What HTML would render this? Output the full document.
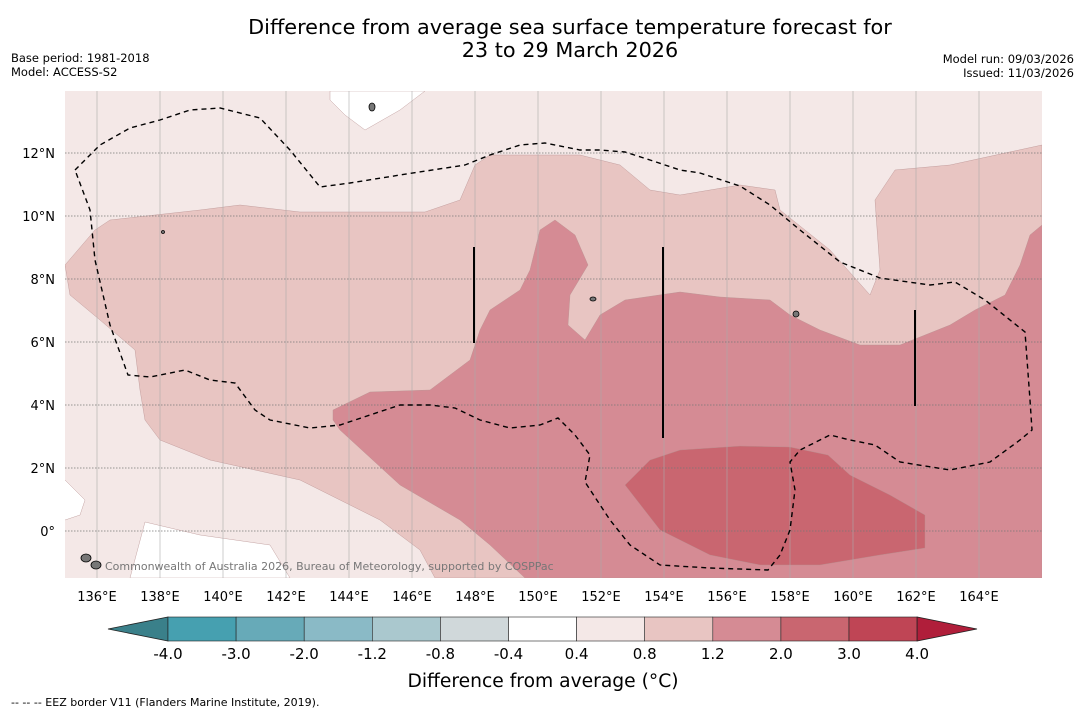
<!DOCTYPE html>
<html><head><meta charset="utf-8"><style>
body{margin:0;background:#fff;font-family:"Liberation Sans",sans-serif;}
svg text{font-family:"DejaVu Sans","Liberation Sans",sans-serif;}
</style></head><body>
<svg id="c" width="1085" height="713" xmlns="http://www.w3.org/2000/svg">
<text x="570" y="34" font-size="20.8" text-anchor="middle">Difference from average sea surface temperature forecast for</text>
<text x="570" y="57" font-size="20.8" text-anchor="middle">23 to 29 March 2026</text>
<text x="11" y="62" font-size="11.5">Base period: 1981-2018</text>
<text x="11" y="76" font-size="11.5">Model: ACCESS-S2</text>
<text x="1074" y="63" font-size="11.5" text-anchor="end">Model run: 09/03/2026</text>
<text x="1074" y="77" font-size="11.5" text-anchor="end">Issued: 11/03/2026</text>
<defs><clipPath id="mc"><rect x="65" y="91" width="977" height="487"/></clipPath></defs>
<g id="map" clip-path="url(#mc)"></g>
<g id="cb"></g>
<text x="543" y="687" font-size="18.7" text-anchor="middle">Difference from average (°C)</text>
<text x="11" y="706" font-size="11">-- -- -- EEZ border V11 (Flanders Marine Institute, 2019).</text>
</svg>
<script>
const lonTicks=[136,138,140,142,144,146,148,150,152,154,156,158,160,162,164];
const latTicks=[0,2,4,6,8,10,12];
const levels=["-4.0","-3.0","-2.0","-1.2","-0.8","-0.4","0.4","0.8","1.2","2.0","3.0","4.0"];
const levelColors=["#46a0b0","#67aab8","#8abac6","#aac8ce","#d0d8da","#ffffff","#f4e8e7","#e8c5c2","#d58b94","#c96670","#bf4555"];
const px=lon=>65.5+(lon-135)*31.5;
const py=lat=>531-lat*31.5;
const NS="http://www.w3.org/2000/svg";
function mk(t,a,p){const e=document.createElementNS(NS,t);for(const k in a)e.setAttribute(k,a[k]);p.appendChild(e);return e;}
const map=document.getElementById('map');
const white1=[[330,91],[425,91],[400,110],[365,130],[345,115],[330,100]];
const white2=[[130,578],[145,522],[200,535],[270,545],[290,578]];
const white3=[[0,480],[65,480],[85,500],[80,515],[65,520],[0,520]];
const lvl08=[[65,265],[95,230],[110,220],[200,210],[240,205],[300,212],[425,212],[460,200],[475,165],[490,155],[580,155],[620,165],[650,190],[680,195],[740,185],[775,190],[780,210],[830,250],[870,295],[880,270],[875,200],[895,170],[950,165],[1042,145],[1042,578],[435,578],[420,550],[380,520],[300,480],[210,460],[160,440],[145,420],[140,390],[135,350],[100,320],[70,295]];
const lvl12=[[333,410],[370,392],[430,390],[470,360],[480,330],[490,310],[520,290],[530,270],[540,230],[555,220],[575,235],[588,265],[570,295],[568,325],[585,340],[600,315],[625,300],[680,292],[720,297],[770,300],[790,315],[820,330],[860,345],[900,345],[950,325],[975,310],[1005,295],[1020,265],[1030,235],[1042,225],[1042,578],[525,578],[490,545],[460,520],[400,485],[340,430],[333,420]];
const lvl20=[[625,485],[650,460],[680,450],[740,446],[790,447],[828,455],[850,475],[890,495],[925,515],[925,548],[880,555],[820,565],[760,565],[710,555],[660,530]];
const eez=[[75,170],[100,145],[130,128],[160,120],[190,110],[220,108],[260,118],[290,150],[320,187],[350,183],[400,175],[465,165],[490,155],[520,145],[545,143],[580,150],[600,150],[625,152],[650,160],[680,170],[700,173],[740,186],[770,205],[800,230],[840,262],[880,278],[930,285],[955,282],[985,300],[1025,332],[1030,400],[1032,430],[1020,440],[990,462],[950,470],[900,462],[875,445],[850,440],[830,435],[800,450],[790,462],[795,490],[790,530],[780,555],[768,570],[710,568],[660,565],[630,545],[610,520],[585,482],[590,455],[575,435],[558,418],[540,425],[510,428],[480,420],[455,408],[430,405],[400,405],[370,415],[340,425],[310,428],[270,420],[255,410],[235,383],[210,380],[185,370],[150,377],[128,375],[110,325],[95,260],[90,210],[75,170]];
const bg=mk('rect',{x:65,y:91,width:977,height:487,fill:"#f4e8e7"},map);

[[white1,"#ffffff","white-region-top"],[white2,"#ffffff","white-region-bottom"],[white3,"#ffffff","white-region-left"],[lvl08,"#e8c5c2","level-0.8-1.2"],[lvl12,"#d58b94","level-1.2-2.0"],[lvl20,"#c96670","level-2.0-3.0"]].forEach(([pts,f,n])=>{
 const p=mk('polygon',{points:pts.map(q=>q.join(',')).join(' '),fill:f,stroke:"#b89090","stroke-width":0.4},map);
 
 
});
lonTicks.forEach(l=>{const g=mk('line',{x1:px(l),x2:px(l),y1:91,y2:578,stroke:"#aaa","stroke-width":0.6},map);
 });
latTicks.forEach(l=>{const g=mk('line',{x1:65,x2:1042,y1:py(l),y2:py(l),stroke:"#777","stroke-width":0.7,"stroke-dasharray":"1.5,1.5"},map);
 });
const e=mk('polyline',{points:eez.map(q=>q.join(',')).join(' '),fill:"none",stroke:"#000","stroke-width":1.4,"stroke-dasharray":"5,4"},map);

[[474,247,343],[663,247,438],[915,310,406]].forEach(([x,a,b])=>{const l=mk('line',{x1:x,x2:x,y1:a,y2:b,stroke:"#000","stroke-width":2},map);
 });
[[86,558,5,4],[96,565,5,4],[372,107,3,4],[796,314,3,3],[593,299,3,2],[163,232,1.5,1.5]].forEach(([x,y,rx,ry])=>{const i=mk('ellipse',{cx:x,cy:y,rx,ry,fill:"#777",stroke:"#000","stroke-width":0.8},map);
 });
const cr=mk('text',{x:105,y:570,"font-size":11,fill:"#777"},map);cr.textContent="Commonwealth of Australia 2026, Bureau of Meteorology, supported by COSPPac";

const svg=document.getElementById('c');
lonTicks.forEach(l=>{const t=mk('text',{x:px(l),y:601,"font-size":13,"text-anchor":"middle"},svg);t.textContent=l+"°E";
 });
latTicks.forEach(l=>{const t=mk('text',{x:55,y:py(l)+5,"font-size":13,"text-anchor":"end"},svg);t.textContent=l===0?"0°":l+"°N";
 });
const cb=document.getElementById('cb');
const x0=168,w=68.1,y0=617,h=24;
const tl=mk('polygon',{points:`${x0},${y0} ${x0},${y0+h} 108,${y0+h/2}`,fill:"#3a808a",stroke:"#222","stroke-width":0.8},cb);

levelColors.forEach((c,i)=>{const r=mk('rect',{x:x0+i*w,y:y0,width:w,height:h,fill:c,stroke:"#222","stroke-width":0.6},cb);
 });
const xe=x0+levelColors.length*w;
const tr=mk('polygon',{points:`${xe},${y0} ${xe},${y0+h} 977,${y0+h/2}`,fill:"#b01e3a",stroke:"#222","stroke-width":0.8},cb);

levels.forEach((s,i)=>{const t=mk('text',{x:x0+i*w,y:659,"font-size":15,"text-anchor":"middle"},cb);t.textContent=s;
 });
</script>
</body></html>
